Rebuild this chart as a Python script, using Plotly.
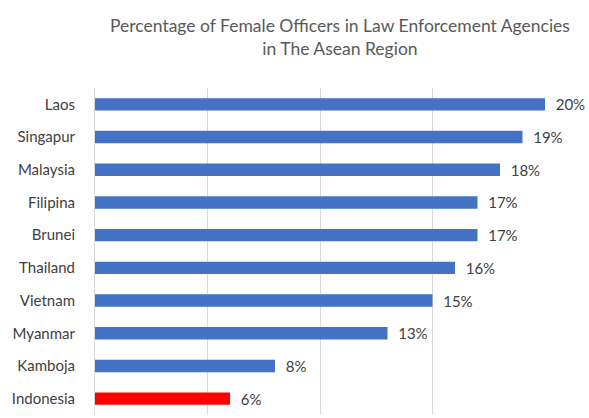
import plotly.graph_objects as go

countries = ["Laos", "Singapur", "Malaysia", "Filipina", "Brunei", "Thailand",
             "Vietnam", "Myanmar", "Kamboja", "Indonesia"]
values = [0.20, 0.19, 0.18, 0.17, 0.17, 0.16, 0.15, 0.13, 0.08, 0.06]
colors = ["#4472C4"] * 9 + ["#FF0000"]
labels = [f"\u00a0\u00a0{round(v*100)}%" for v in values]

FONT = "Lato, Open Sans, sans-serif"
fig = go.Figure(go.Bar(
    y=countries, x=values, orientation="h",
    marker=dict(color=colors, line=dict(width=0)),
    width=0.38,
    text=labels, textposition="outside", cliponaxis=False, constraintext="none",
    textfont=dict(family=FONT, size=15, color="#404040"),
))

W, H = 589, 418
ml, mr, mt, mb = 95, 44, 88, 3
fig.update_layout(
    width=W, height=H,
    margin=dict(l=ml, r=mr, t=mt, b=mb, autoexpand=False),
    paper_bgcolor="white", plot_bgcolor="white",
    font=dict(family=FONT, color="#404040"),
    showlegend=False,
    annotations=[dict(
        text="Percentage of Female Officers in Law Enforcement Agencies<br>in The Asean Region",
        xref="paper", yref="paper",
        x=(340 - ml) / (W - ml - mr), y=1 + (mt - 13) / (H - mt - mb),
        xanchor="center", yanchor="top", showarrow=False,
        font=dict(size=17.5, color="#595959", family=FONT),
    )],
)
fig.update_xaxes(range=[0, 0.2], dtick=0.05, showgrid=True, gridcolor="#D9D9D9",
                 gridwidth=1, showticklabels=False, zeroline=False, showline=False, ticks="",
                 automargin=False)
fig.update_yaxes(autorange="reversed", showgrid=False, showline=True, linecolor="#D9D9D9",
                 ticks="", ticklabelstandoff=16, automargin=False,
                 tickfont=dict(size=15, color="#404040", family=FONT))

fig.write_html("out.html", config={"displayModeBar": False},
               post_script="document.body.style.margin='0';document.body.style.overflow='hidden';")
